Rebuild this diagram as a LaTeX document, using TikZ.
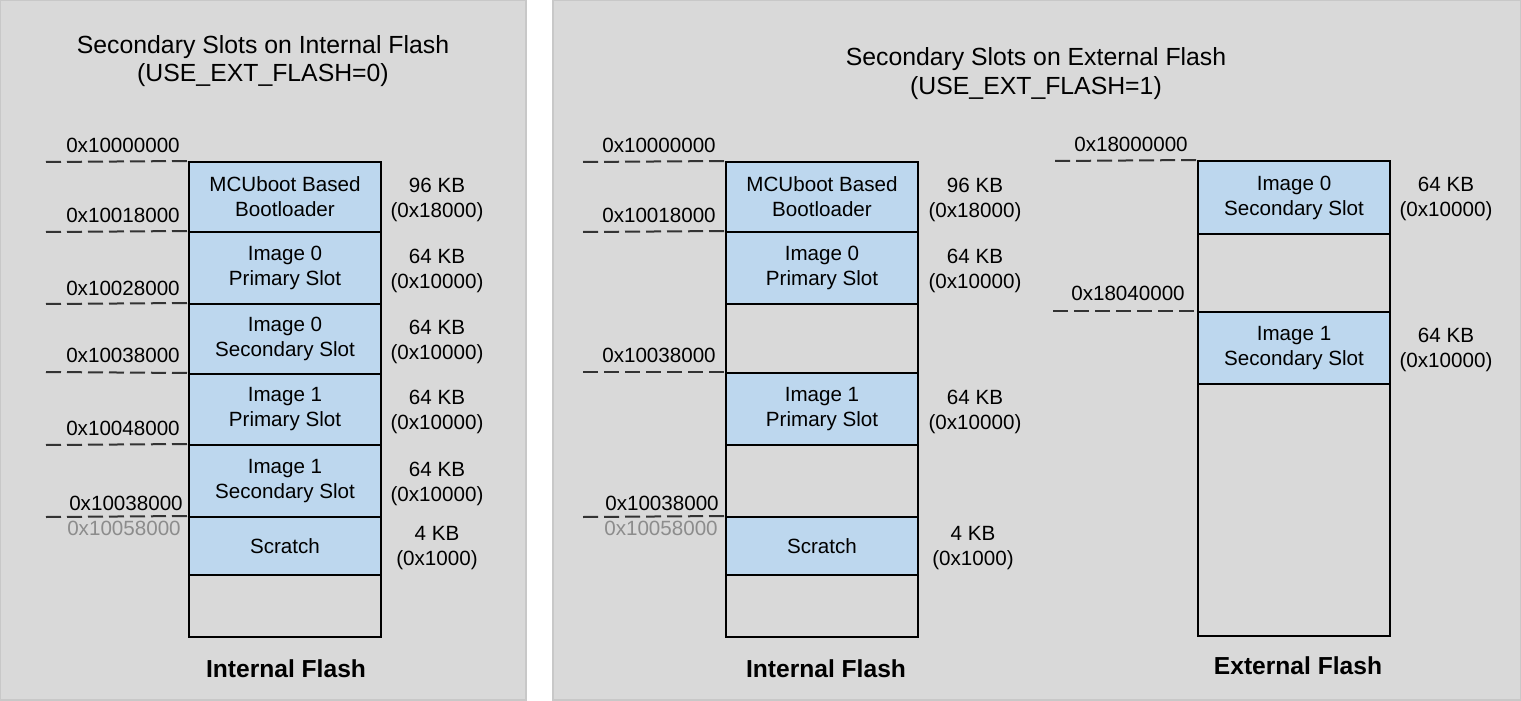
\documentclass[tikz,border=0pt]{standalone}
\usepackage{fontspec}
\setmainfont{Liberation Sans}
\definecolor{panelgray}{HTML}{D9D9D9}
\definecolor{panelborder}{HTML}{C8C8C8}
\definecolor{slotblue}{HTML}{BDD7EE}
\definecolor{dashgray}{HTML}{333333}
\definecolor{oldgray}{HTML}{8C8C8C}
\begin{document}
\begin{tikzpicture}[x=0.5pt,y=-0.5pt,
  panel/.style={fill=panelgray,draw=panelborder,line width=0.75pt},
  cell/.style={draw=black,line width=1pt,minimum width=96pt,inner sep=0pt,align=center,
    font=\fontsize{10.3}{12.5}\selectfont},
  slot/.style={cell,fill=slotblue},
  emptycell/.style={cell,fill=none},
  txt/.style={inner sep=0pt,align=center,font=\fontsize{10.3}{12.5}\selectfont},
  oldaddr/.style={txt,text=oldgray},
  title/.style={inner sep=0pt,align=center,font=\fontsize{12.4}{14.2}\selectfont},
  foot/.style={inner sep=0pt,font=\fontsize{12.3}{14}\selectfont\bfseries},
  addrline/.style={draw=dashgray,line width=1pt,dash pattern=on 7.5pt off 3pt}]
\useasboundingbox (0,0) rectangle (1521,701);
% panels
\path[panel] (0,0) rectangle (526,700);
\path[panel] (553,0) rectangle (1521,700);

% ---------------- Left panel ----------------
\node[title] (tL) at (263,61) {Secondary Slots on Internal Flash\\(USE\_EXT\_FLASH=0)};

\node[slot,minimum height=35pt] (L1) at (285,197) {MCUboot Based\\Bootloader};
\node[slot,minimum height=36pt] (L2) at (285,268) {Image 0\\Primary Slot};
\node[slot,minimum height=35pt] (L3) at (285,339) {Image 0\\Secondary Slot};
\node[slot,minimum height=35.5pt] (L4) at (285,409.5) {Image 1\\Primary Slot};
\node[slot,minimum height=36pt] (L5) at (285,481) {Image 1\\Secondary Slot};
\node[slot,minimum height=29pt] (L6) at (285,546) {Scratch};
\node[emptycell,minimum height=31pt] (L7) at (285,606) {};

\node[txt] (sL1) at (437,199.5) {96 KB\\(0x18000)};
\node[txt] (sL2) at (437,270.5) {64 KB\\(0x10000)};
\node[txt] (sL3) at (437,341.5) {64 KB\\(0x10000)};
\node[txt] (sL4) at (437,411.5) {64 KB\\(0x10000)};
\node[txt] (sL5) at (437,483.5) {64 KB\\(0x10000)};
\node[txt] (sL6) at (437,548) {4 KB\\(0x1000)};

\node[txt] (aL1) at (123,145) {0x10000000};
\node[txt] (aL2) at (123,215) {0x10018000};
\node[txt] (aL3) at (123,288) {0x10028000};
\node[txt] (aL4) at (123,355) {0x10038000};
\node[txt] (aL5) at (123,428) {0x10048000};
\node[txt] (aL6) at (126,503) {0x10038000};
\node[oldaddr] (aL6o) at (124,528) {0x10058000};

\coordinate (dL1) at (46,162);
\coordinate (dL2) at (46,232);
\coordinate (dL3) at (46,304);
\coordinate (dL4) at (46,372);
\coordinate (dL5) at (46,445);
\coordinate (dL6) at (46,517);
\draw[addrline] (dL1) -- (L1.north west);
\draw[addrline] (dL2) -- (L2.north west);
\draw[addrline] (dL3) -- (L3.north west);
\draw[addrline] (dL4) -- (L4.north west);
\draw[addrline] (dL5) -- (L5.north west);
\draw[addrline] (dL6) -- (L6.north west);

\node[foot] (fL) at (286,669) {Internal Flash};

% ---------------- Right panel ----------------
\node[title] (tR) at (1036,73.5) {Secondary Slots on External Flash\\(USE\_EXT\_FLASH=1)};

% internal flash
\node[slot,minimum height=35pt] (R1) at (822,197) {MCUboot Based\\Bootloader};
\node[slot,minimum height=36pt] (R2) at (822,268) {Image 0\\Primary Slot};
\node[emptycell,minimum height=34.5pt] (R3) at (822,338.5) {};
\node[slot,minimum height=36pt] (R4) at (822,409) {Image 1\\Primary Slot};
\node[emptycell,minimum height=36pt] (R5) at (822,481) {};
\node[slot,minimum height=29pt] (R6) at (822,546) {Scratch};
\node[emptycell,minimum height=31pt] (R7) at (822,606) {};

\node[txt] (sR1) at (975,199.5) {96 KB\\(0x18000)};
\node[txt] (sR2) at (975,270.5) {64 KB\\(0x10000)};
\node[txt] (sR4) at (975,411.5) {64 KB\\(0x10000)};
\node[txt] (sR6) at (973,548) {4 KB\\(0x1000)};

\node[txt] (aR1) at (659,145) {0x10000000};
\node[txt] (aR2) at (659,215) {0x10018000};
\node[txt] (aR4) at (659,355) {0x10038000};
\node[txt] (aR6) at (662,503) {0x10038000};
\node[oldaddr] (aR6o) at (661,528) {0x10058000};

\coordinate (dR1) at (583,162);
\coordinate (dR2) at (583,232);
\coordinate (dR4) at (583,372);
\coordinate (dR6) at (583,517);
\draw[addrline] (dR1) -- (R1.north west);
\draw[addrline] (dR2) -- (R2.north west);
\draw[addrline] (dR4) -- (R4.north west);
\draw[addrline] (dR6) -- (R6.north west);

\node[foot] (fR) at (826,669) {Internal Flash};

% external flash
\node[slot,minimum height=36.5pt] (E1) at (1294,197.5) {Image 0\\Secondary Slot};
\node[emptycell,minimum height=39pt] (E2) at (1294,273) {};
\node[slot,minimum height=36pt] (E3) at (1294,348) {Image 1\\Secondary Slot};
\node[emptycell,minimum height=126pt] (E4) at (1294,510) {};

\node[txt] (sE1) at (1446,199) {64 KB\\(0x10000)};
\node[txt] (sE3) at (1446,349.5) {64 KB\\(0x10000)};

\node[txt] (aE1) at (1131,144) {0x18000000};
\node[txt] (aE3) at (1128,293) {0x18040000};

\coordinate (dE1) at (1055,161);
\coordinate (dE3) at (1053,311);
\draw[addrline] (dE1) -- (E1.north west);
\draw[addrline] (dE3) -- (E3.north west);

\node[foot] (fE) at (1298,666) {External Flash};
\end{tikzpicture}
\end{document}
